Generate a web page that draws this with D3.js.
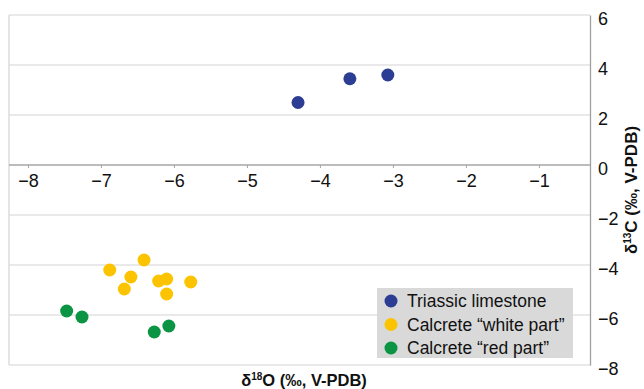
<!DOCTYPE html>
<html>
<head>
<meta charset="utf-8">
<script src="https://cdn.jsdelivr.net/npm/d3@7"></script>
<style>
  body { margin: 0; background: #fff; }
  svg { display: block; font-family: "Liberation Sans", Arial, sans-serif; }
</style>
</head>
<body>
<div id="chart"></div>
<script>
const seriesNames = ["Triassic limestone", "Calcrete “white part”", "Calcrete “red part”"];
const seriesColors = ["#2b3e93", "#fcc400", "#0b9444"];

const triassicO = [-4.3, -3.59, -3.07];
const triassicC = [2.5, 3.45, 3.6];
const whiteO = [-6.88, -6.41, -6.59, -6.68, -6.21, -6.1, -6.1, -5.77];
const whiteC = [-4.2, -3.8, -4.48, -4.96, -4.64, -4.56, -5.16, -4.68];
const redO = [-7.47, -7.26, -6.27, -6.07];
const redC = [-5.84, -6.08, -6.68, -6.44];

const xTicks = [-8, -7, -6, -5, -4, -3, -2, -1];
const yTicks = [6, 4, 2, 0, -2, -4, -6, -8];

const series = [
  { name: seriesNames[0], color: seriesColors[0], o: triassicO, c: triassicC },
  { name: seriesNames[1], color: seriesColors[1], o: whiteO, c: whiteC },
  { name: seriesNames[2], color: seriesColors[2], o: redO, c: redC },
];

const width = 644, height = 389;
const plotLeft = 9, plotRight = 590, plotTop = 15, plotBottom = 365;

const x = d3.scaleLinear().domain([-8.26, -0.3]).range([plotLeft, plotRight]);
const y = d3.scaleLinear().domain([-8, 6]).range([plotBottom, plotTop]);

const svg = d3.select("#chart").append("svg")
  .attr("width", width)
  .attr("height", height);

// grid lines, including top and bottom border
svg.append("g")
  .selectAll("line")
  .data(yTicks.filter(d => d !== 0))
  .enter()
  .append("line")
  .attr("x1", plotLeft)
  .attr("x2", plotRight)
  .attr("y1", d => y(d))
  .attr("y2", d => y(d))
  .attr("stroke", "#d4d4d4")
  .attr("stroke-width", 1.2);

// left border
svg.append("line")
  .attr("x1", plotLeft).attr("x2", plotLeft)
  .attr("y1", plotTop).attr("y2", plotBottom)
  .attr("stroke", "#d4d4d4")
  .attr("stroke-width", 1.2);

// x axis along zero
const xAxis = svg.append("g")
  .attr("transform", `translate(0,${y(0)})`)
  .call(d3.axisBottom(x).tickValues(xTicks).tickSize(3).tickPadding(6));
xAxis.select(".domain")
  .attr("d", `M${plotLeft},0H${plotRight}`)
  .attr("stroke", "#a6a6a6")
  .attr("stroke-width", 1.6);
xAxis.selectAll(".tick line").attr("stroke", "#a6a6a6");
xAxis.selectAll(".tick text")
  .attr("font-size", 18)
  .attr("font-family", "Liberation Sans, Arial, sans-serif")
  .attr("fill", "#111");

// right y axis
const yAxis = svg.append("g")
  .attr("transform", `translate(${plotRight},0)`)
  .call(d3.axisRight(y).tickValues(yTicks).tickSize(0).tickPadding(8));
yAxis.select(".domain").attr("stroke", "#a0a0a0").attr("stroke-width", 1.3);
yAxis.selectAll(".tick text")
  .attr("font-size", 18)
  .attr("dy", "0.5em")
  .attr("font-family", "Liberation Sans, Arial, sans-serif")
  .attr("fill", "#111");

// points
series.forEach(s => {
  svg.append("g")
    .selectAll("circle")
    .data(s.o.map((o, i) => [o, s.c[i]]))
    .enter()
    .append("circle")
    .attr("cx", d => x(d[0]))
    .attr("cy", d => y(d[1]))
    .attr("r", 6.5)
    .attr("fill", s.color);
});

// legend
const legend = svg.append("g").attr("transform", "translate(377,288)");
legend.append("rect")
  .attr("width", 196)
  .attr("height", 70)
  .attr("fill", "#d9d9d9");
const item = legend.selectAll("g")
  .data(series)
  .enter()
  .append("g")
  .attr("transform", (d, i) => `translate(0,${13 + i * 23.5})`);
item.append("circle")
  .attr("cx", 14)
  .attr("r", 6.5)
  .attr("fill", d => d.color);
item.append("text")
  .attr("x", 30)
  .attr("dy", "0.36em")
  .attr("font-size", 17.5)
  .attr("fill", "#111")
  .text(d => d.name);

// axis titles
const xTitle = svg.append("text")
  .attr("x", 304)
  .attr("y", 386)
  .attr("text-anchor", "middle")
  .attr("font-size", 16.5)
  .attr("font-weight", "bold")
  .attr("fill", "#111");
xTitle.append("tspan").text("δ");
xTitle.append("tspan").attr("font-size", 10).attr("dy", -6).text("18");
xTitle.append("tspan").attr("dy", 6).text("O (‰, V-PDB)");

const yTitle = svg.append("text")
  .attr("transform", `translate(637,190) rotate(-90)`)
  .attr("text-anchor", "middle")
  .attr("font-size", 17)
  .attr("font-weight", "bold")
  .attr("fill", "#111");
yTitle.append("tspan").text("δ");
yTitle.append("tspan").attr("font-size", 10).attr("dy", -6).text("13");
yTitle.append("tspan").attr("dy", 6).text("C (‰, V-PDB)");
</script>
</body>
</html>
